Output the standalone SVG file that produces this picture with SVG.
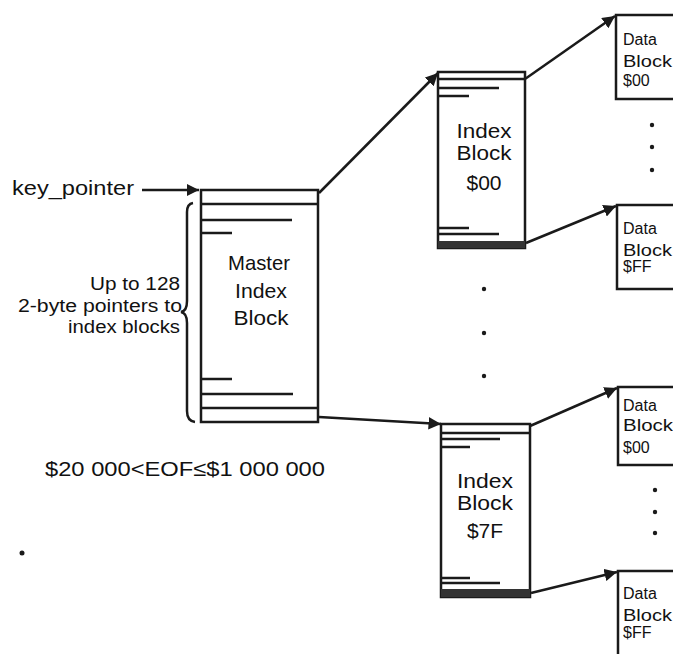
<svg xmlns="http://www.w3.org/2000/svg" width="673" height="654" viewBox="0 0 673 654">
<defs>
<style>
.t{font-family:"Liberation Sans",Arial,sans-serif;fill:#111;}
.big{font-size:21px;}
.mid{font-size:18px;}
.sm{font-size:16px;}
.box{fill:none;stroke:#1a1a1a;stroke-width:2.5;stroke-linecap:square;}
.ln{stroke:#1a1a1a;stroke-width:2.5;fill:none;}
.conn{stroke:#1a1a1a;stroke-width:2.5;fill:none;}
.dot{fill:#1a1a1a;}
</style>
<marker id="ah" viewBox="0 0 10 10" refX="10" refY="5" markerWidth="5" markerHeight="5" orient="auto" markerUnits="strokeWidth">
<path d="M0,0 L10,5 L0,10 Z" fill="#1a1a1a"/>
</marker>
</defs>
<rect x="0" y="0" width="673" height="654" fill="#fff"/>

<g id="key_pointer">
<text class="t big" x="12" y="195" textLength="122" lengthAdjust="spacingAndGlyphs">key_pointer</text>
</g>

<g id="master">
<path class="box" d="M201,190 L318,190 L318,422 L201,422 Z"/>
<line class="ln" x1="201" y1="204" x2="318" y2="204"/>
<line class="ln" x1="201" y1="220" x2="292" y2="220"/>
<line class="ln" x1="201" y1="233" x2="232" y2="233"/>
<line class="ln" x1="201" y1="379" x2="232" y2="379"/>
<line class="ln" x1="201" y1="394" x2="293" y2="394"/>
<line class="ln" x1="201" y1="408" x2="318" y2="408"/>
<text class="t big" x="259" y="270" text-anchor="middle" textLength="62" lengthAdjust="spacingAndGlyphs">Master</text>
<text class="t big" x="261" y="298" text-anchor="middle" textLength="52" lengthAdjust="spacingAndGlyphs">Index</text>
<text class="t big" x="261" y="325" text-anchor="middle" textLength="55" lengthAdjust="spacingAndGlyphs">Block</text>
</g>

<g id="brace">
<path class="ln" d="M193,203 Q187,204 187,212 L187,301 Q187,311 181,312 Q187,313 187,323 L187,411 Q187,421 195,422"/>
<text class="t mid" x="180" y="290" text-anchor="end" textLength="90" lengthAdjust="spacingAndGlyphs">Up to 128</text>
<text class="t mid" x="182" y="312" text-anchor="end" textLength="164" lengthAdjust="spacingAndGlyphs">2-byte pointers to</text>
<text class="t mid" x="180" y="333" text-anchor="end" textLength="112" lengthAdjust="spacingAndGlyphs">index blocks</text>
</g>

<g id="index00">
<path class="box" d="M438,72 L525,72 L525,248 L438,248 Z"/>
<line class="ln" x1="438" y1="79" x2="525" y2="79"/>
<line class="ln" x1="438" y1="88" x2="499" y2="88"/>
<line class="ln" x1="438" y1="96" x2="469" y2="96"/>
<line class="ln" x1="438" y1="228" x2="469" y2="228"/>
<line class="ln" x1="438" y1="234" x2="499" y2="234"/>
<rect x="438" y="241" width="87" height="7" fill="#333"/>
<text class="t big" x="484" y="138" text-anchor="middle" textLength="55" lengthAdjust="spacingAndGlyphs">Index</text>
<text class="t big" x="484" y="160" text-anchor="middle" textLength="55" lengthAdjust="spacingAndGlyphs">Block</text>
<text class="t big" x="484" y="190" text-anchor="middle">$00</text>
</g>

<g id="index7F">
<path class="box" d="M441,424 L530,424 L530,597 L441,597 Z"/>
<line class="ln" x1="441" y1="433" x2="530" y2="433"/>
<line class="ln" x1="441" y1="439" x2="500" y2="439"/>
<line class="ln" x1="441" y1="447" x2="470" y2="447"/>
<line class="ln" x1="441" y1="578" x2="470" y2="578"/>
<line class="ln" x1="441" y1="583" x2="500" y2="583"/>
<rect x="441" y="589" width="89" height="8" fill="#333"/>
<text class="t big" x="485" y="488" text-anchor="middle" textLength="56" lengthAdjust="spacingAndGlyphs">Index</text>
<text class="t big" x="485" y="510" text-anchor="middle" textLength="56" lengthAdjust="spacingAndGlyphs">Block</text>
<text class="t big" x="485" y="538" text-anchor="middle">$7F</text>
</g>

<g id="data00a">
<path class="box" d="M680,15 L616,15 L616,99 L680,99"/>
<text class="t sm" x="623" y="45">Data</text>
<text class="t sm" x="623" y="67" textLength="49" lengthAdjust="spacingAndGlyphs">Block</text>
<text class="t sm" x="623" y="86">$00</text>
</g>

<g id="dataFFa">
<path class="box" d="M680,205 L617,205 L617,289 L680,289"/>
<text class="t sm" x="623" y="234">Data</text>
<text class="t sm" x="623" y="256" textLength="49" lengthAdjust="spacingAndGlyphs">Block</text>
<text class="t sm" x="623" y="272">$FF</text>
</g>

<g id="data00b">
<path class="box" d="M680,387 L618,387 L618,465 L680,465"/>
<text class="t sm" x="623" y="411">Data</text>
<text class="t sm" x="623" y="431" textLength="50" lengthAdjust="spacingAndGlyphs">Block</text>
<text class="t sm" x="623" y="453">$00</text>
</g>

<g id="dataFFb">
<path class="box" d="M680,571 L618,571 L618,660"/>
<text class="t sm" x="623" y="599">Data</text>
<text class="t sm" x="623" y="621" textLength="49" lengthAdjust="spacingAndGlyphs">Block</text>
<text class="t sm" x="623" y="638">$FF</text>
</g>

<g id="eof">
<text class="t big" x="45" y="476" textLength="280" lengthAdjust="spacingAndGlyphs">$20 000&lt;EOF≤$1 000 000</text>
</g>

<g id="dots">
<circle class="dot" cx="652" cy="125" r="2.2"/>
<circle class="dot" cx="652" cy="147" r="2.2"/>
<circle class="dot" cx="652" cy="170" r="2.2"/>
<circle class="dot" cx="484" cy="289" r="2.2"/>
<circle class="dot" cx="484" cy="333" r="2.2"/>
<circle class="dot" cx="484" cy="376" r="2.2"/>
<circle class="dot" cx="655" cy="490" r="2.2"/>
<circle class="dot" cx="655" cy="512" r="2.2"/>
<circle class="dot" cx="655" cy="533" r="2.2"/>
<circle class="dot" cx="22" cy="553" r="2.5"/>
</g>

<g id="connectors">
<line class="conn" x1="142" y1="190" x2="199" y2="190" marker-end="url(#ah)"/>
<line class="conn" x1="319" y1="193" x2="438" y2="73" marker-end="url(#ah)"/>
<line class="conn" x1="319" y1="417" x2="441" y2="424" marker-end="url(#ah)"/>
<line class="conn" x1="525" y1="79" x2="615" y2="16" marker-end="url(#ah)"/>
<line class="conn" x1="526" y1="243" x2="616" y2="206" marker-end="url(#ah)"/>
<line class="conn" x1="530" y1="426" x2="617" y2="388" marker-end="url(#ah)"/>
<line class="conn" x1="531" y1="593" x2="617" y2="572" marker-end="url(#ah)"/>
</g>
</svg>
